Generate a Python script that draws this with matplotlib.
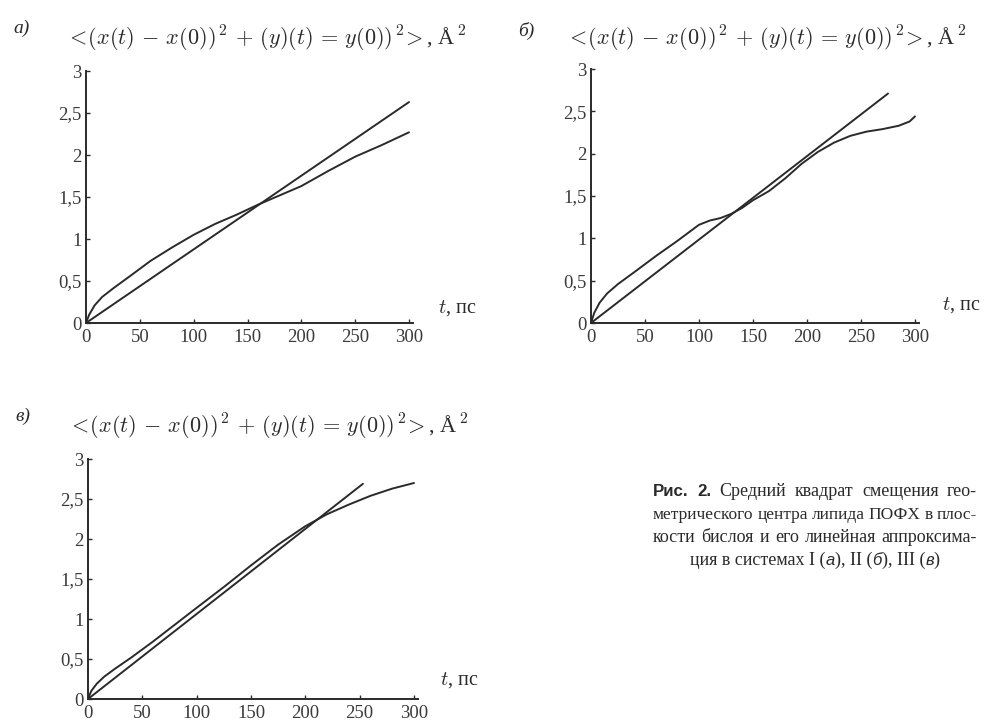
import matplotlib
matplotlib.use("Agg")
import matplotlib.pyplot as plt

plt.rcParams['mathtext.fontset'] = 'cm'
plt.rcParams['font.family'] = ['Liberation Serif', 'DejaVu Serif']

# ---- data ----
t_a = [0, 3, 8, 15, 25, 40, 60, 80, 100, 120, 140, 160, 180, 200, 225, 250, 275, 300]
msd_a = [0, 0.10, 0.21, 0.31, 0.41, 0.55, 0.74, 0.90, 1.05, 1.18, 1.29, 1.41, 1.52, 1.63, 1.81, 1.98, 2.12, 2.27]
fit_a_t = [0, 300]
fit_a_y = [0, 2.63]

t_b = [0, 3, 8, 15, 25, 40, 60, 80, 100, 110, 120, 130, 140, 150, 165, 180, 195, 210, 225, 240, 255, 270, 285, 295, 300]
msd_b = [0, 0.12, 0.24, 0.35, 0.46, 0.60, 0.79, 0.97, 1.16, 1.21, 1.24, 1.29, 1.36, 1.45, 1.56, 1.71, 1.88, 2.02, 2.13, 2.21, 2.26, 2.29, 2.33, 2.38, 2.44]
fit_b_t = [0, 275]
fit_b_y = [0, 2.71]

t_c = [0, 3, 8, 15, 25, 40, 60, 80, 100, 125, 150, 175, 200, 220, 240, 260, 280, 300]
msd_c = [0, 0.10, 0.19, 0.28, 0.38, 0.52, 0.72, 0.93, 1.14, 1.40, 1.67, 1.93, 2.16, 2.31, 2.43, 2.54, 2.63, 2.70]
fit_c_t = [0, 253]
fit_c_y = [0, 2.69]

x_ticks = [0, 50, 100, 150, 200, 250, 300]
y_ticks = [0, 0.5, 1, 1.5, 2, 2.5, 3]
y_tick_labels = ['0', '0,5', '1', '1,5', '2', '2,5', '3']

panel_labels = ['а)', 'б)', 'в)']
title_text = r'$<\!(x(t)\,-\,x(0))^{\,2}\,+\,(y)(t)\,=\,y(0))^{\,2}\!>$, Å$^{\,2}$'
xlabel_text = r'$t$, пс'

caption_lines = [
    [('Рис.', 'b'), ('2.', 'b'), ('Средний', 'r'), ('квадрат', 'r'), ('смещения', 'r'), ('гео-', 'r')],
    [('метрического', 'r'), ('центра', 'r'), ('липида', 'r'), ('ПОФХ', 'r'), ('в', 'r'), ('плос-', 'r')],
    [('кости', 'r'), ('бислоя', 'r'), ('и', 'r'), ('его', 'r'), ('линейная', 'r'), ('аппроксима-', 'r')],
]
caption_last = [('ция в системах I (', 'r'), ('а', 'i'), ('), II (', 'r'), ('б', 'i'), ('), III (', 'r'), ('в', 'i'), (')', 'r')]

W, H = 994, 728
fig = plt.figure(figsize=(W / 100, H / 100), dpi=100)
fig.patch.set_facecolor('white')

INK = '#2a2a2a'

def fx(px):
    return px / W

def fy(py):
    return 1 - py / H

# axes boxes in pixels: (x0, x300, y0pix, y3pix)
boxes = [(86, 409, 323, 71), (591, 915, 323, 69), (88, 414, 699, 459)]
series = [(t_a, msd_a, fit_a_t, fit_a_y), (t_b, msd_b, fit_b_t, fit_b_y), (t_c, msd_c, fit_c_t, fit_c_y)]
label_pos = [(13, 33), (518, 36), (15, 421)]
title_pos = [(66, 45), (566, 45), (68, 433)]
tlabel_pos = [(438, 313), (942, 310), (440, 685)]

for i, ((x0, x1, yb, yt), (ts, ms, ft, fv), lp, tp, tl) in enumerate(zip(boxes, series, label_pos, title_pos, tlabel_pos)):
    xr = 304
    left = fx(x0)
    width = (x1 - x0) / W * xr / 300
    bottom = fy(yb)
    height = (yb - yt) / H
    ax = fig.add_axes([left, bottom, width, height])
    ax.plot(ts, ms, color=INK, lw=1.4, solid_capstyle='round')
    ax.plot(ft, fv, color=INK, lw=1.4, solid_capstyle='round')
    ax.set_xlim(0, xr)
    ax.set_ylim(0, 3)
    ax.set_xticks(x_ticks)
    ax.set_yticks(y_ticks)
    ax.set_yticklabels(y_tick_labels)
    for s in ['top', 'right']:
        ax.spines[s].set_visible(False)
    for s in ['left', 'bottom']:
        ax.spines[s].set_linewidth(1.4)
        ax.spines[s].set_color(INK)
    ax.tick_params(direction='in', length=3, width=1, colors=INK, labelsize=13.5, pad=3)
    ax.tick_params(axis='x', pad=4)
    ax.tick_params(labelcolor='#3a3a3a')
    ax.patch.set_alpha(0)
    fig.text(fx(lp[0]), fy(lp[1]), panel_labels[i], fontsize=14, style='italic', color=INK, va='baseline')
    fig.text(fx(tp[0]), fy(tp[1]), title_text, fontsize=16, color=INK, va='baseline')
    fig.text(fx(tl[0]), fy(tl[1]), xlabel_text, fontsize=14.5, color=INK, va='baseline')

# ---- caption ----
renderer = fig.canvas.get_renderer()
CAP = 13.0

def make_text(s, kind, x, y, size):
    if kind == 'b':
        return fig.text(x, y, s, fontsize=size - 0.8, fontweight='bold', family=['Liberation Sans', 'DejaVu Sans'],
                        color=INK, va='baseline')
    if kind == 'i':
        return fig.text(x, y, s, fontsize=size - 1, style='italic', family=['Liberation Sans', 'DejaVu Sans'],
                        color=INK, va='baseline')
    return fig.text(x, y, s, fontsize=size, color=INK, va='baseline')

cap_x0, cap_x1 = 653, 977
baselines = [496, 519, 542, 565]
MIN_GAP = 4.0
for line, by in zip(caption_lines, baselines):
    size = CAP
    objs = [make_text(s, k, 0, fy(by), size) for s, k in line]
    widths = [o.get_window_extent(renderer).width for o in objs]
    need = sum(widths) + MIN_GAP * (len(objs) - 1)
    avail = cap_x1 - cap_x0
    if need > avail:
        size = CAP * (avail - MIN_GAP * (len(objs) - 1)) / sum(widths)
        for o in objs:
            o.remove()
        objs = [make_text(s, k, 0, fy(by), size) for s, k in line]
        widths = [o.get_window_extent(renderer).width for o in objs]
    gap = (avail - sum(widths)) / (len(objs) - 1)
    x = cap_x0
    for o, w in zip(objs, widths):
        o.set_x(fx(x))
        x += w + gap

objs = [make_text(s, k, 0, fy(baselines[3]), CAP) for s, k in caption_last]
widths = [o.get_window_extent(renderer).width for o in objs]
total = sum(widths)
x = (cap_x0 + cap_x1) / 2 - total / 2
for o, w in zip(objs, widths):
    o.set_x(fx(x))
    x += w

fig.savefig('out.png', dpi=100, facecolor='white')
